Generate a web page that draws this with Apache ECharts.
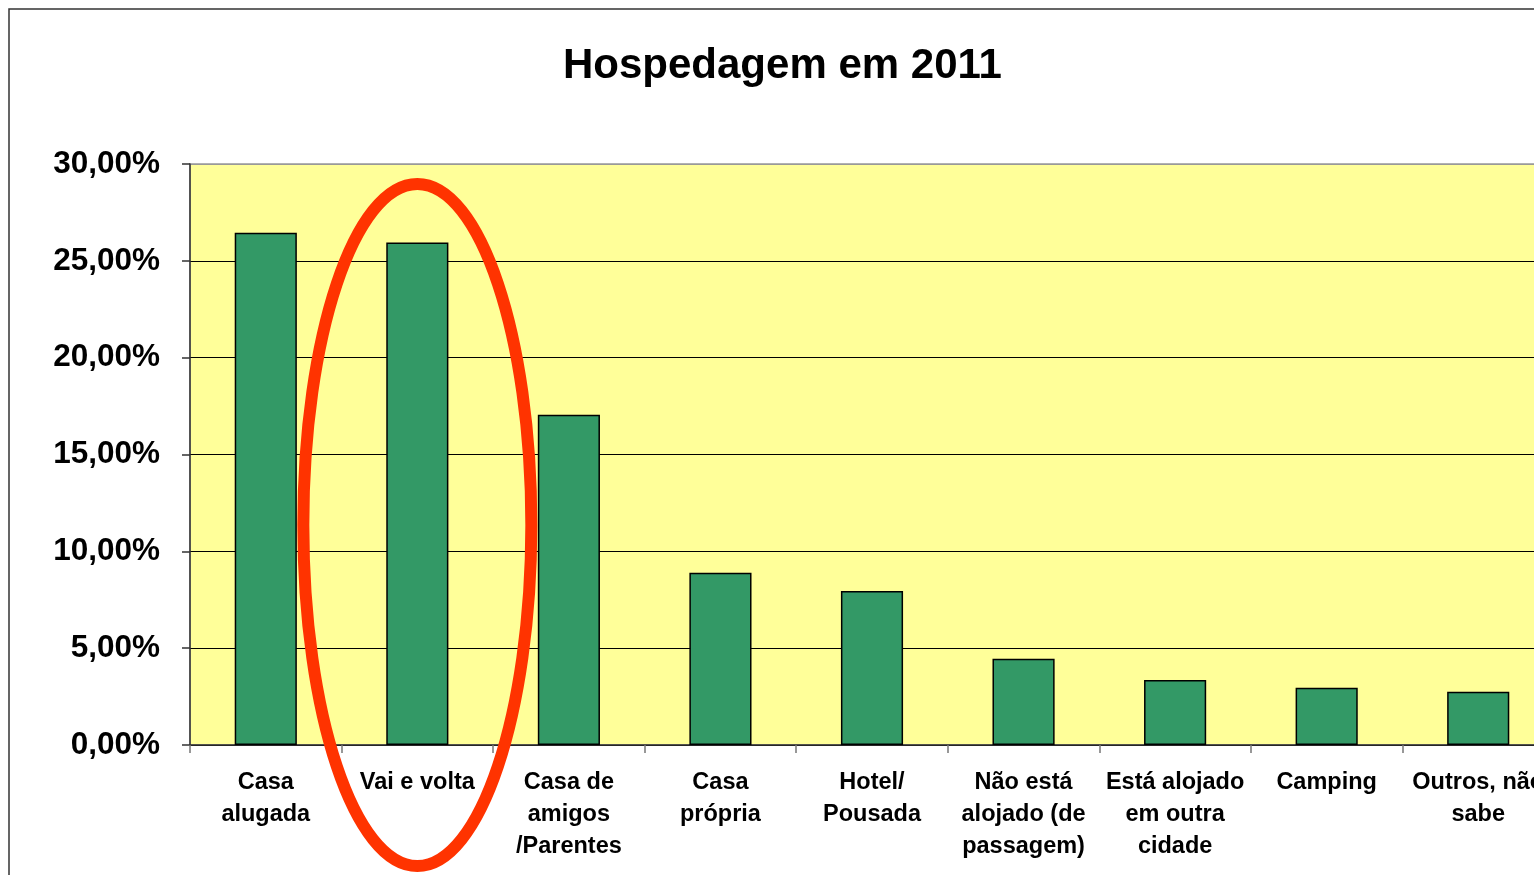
<!DOCTYPE html>
<html>
<head>
<meta charset="utf-8">
<script src="https://cdn.jsdelivr.net/npm/echarts@6/dist/echarts.min.js"></script>
<style>
  html, body { margin: 0; padding: 0; background: #fff; overflow: hidden; }
  #chart { width: 1554px; height: 875px; }
</style>
</head>
<body>
<div id="chart"></div>
<script>
// Categories and values (percent)
var categories = [
    "Casa\nalugada",
    "Vai e volta",
    "Casa de\namigos\n/Parentes",
    "Casa\nprópria",
    "Hotel/\nPousada",
    "Não está\nalojado (de\npassagem)",
    "Está alojado\nem outra\ncidade",
    "Camping",
    "Outros, não\nsabe"
];
var values = [26.45, 25.95, 17.05, 8.9, 7.95, 4.45, 3.35, 2.95, 2.75];
var yTicks = { min: 0, max: 30, interval: 5 };
var highlighted = "Vai e volta";

var chart = echarts.init(document.getElementById('chart'));
var font = 'Liberation Sans, Arial, sans-serif';

chart.setOption({
    animation: false,
    backgroundColor: '#ffffff',
    title: {
        text: 'Hospedagem em 2011',
        left: 558,
        top: 40,
        textStyle: { fontFamily: font, fontSize: 42, fontWeight: 'bold', color: '#000' }
    },
    grid: {
        left: 190,
        top: 164,
        bottom: 130,
        right: 0,
        show: true,
        backgroundColor: '#FFFF99',
        borderColor: '#999999',
        borderWidth: 1.5
    },
    xAxis: {
        type: 'category',
        data: categories,
        axisLine: { lineStyle: { color: '#333', width: 1.5 } },
        axisTick: { show: true, length: 8, lineStyle: { color: '#777', width: 1.5 } },
        axisLabel: {
            interval: 0,
            margin: 22,
            fontFamily: font,
            fontSize: 23.5,
            fontWeight: 'bold',
            color: '#000',
            lineHeight: 32
        }
    },
    yAxis: {
        type: 'value',
        min: yTicks.min,
        max: yTicks.max,
        interval: yTicks.interval,
        axisLine: { show: true, lineStyle: { color: '#333', width: 1.5 } },
        axisTick: { show: true, length: 8, lineStyle: { color: '#333', width: 1.5 } },
        splitLine: {
            lineStyle: {
                color: ['#000', '#000', '#000', '#000', '#000', '#000', '#999'],
                width: 1.2
            }
        },
        axisLabel: {
            margin: 30,
            fontFamily: font,
            fontSize: 31.5,
            fontWeight: 'bold',
            color: '#000',
            formatter: function (v) { return v.toFixed(2).replace('.', ',') + '%'; }
        }
    },
    series: [{
        type: 'bar',
        data: values,
        barWidth: '41%',
        itemStyle: { color: '#339966', borderColor: '#000', borderWidth: 1.5 }
    }]
});

// red ellipse around the highlighted category
var center = chart.convertToPixel({ gridIndex: 0 }, [highlighted, 0]);
chart.setOption({
    graphic: [
        {
            type: 'rect',
            shape: { x: 9, y: 9, width: 1600, height: 900 },
            style: { fill: null, stroke: '#333', lineWidth: 1.5 },
            silent: true,
            z: 0
        },
        {
            type: 'ellipse',
            shape: { cx: center[0], cy: 525, rx: 114, ry: 341 },
            style: { fill: null, stroke: '#FF3300', lineWidth: 12 },
            silent: true,
            z: 100
        }
    ]
});

window.addEventListener('resize', function () {
    chart.resize();
});
</script>
</body>
</html>
